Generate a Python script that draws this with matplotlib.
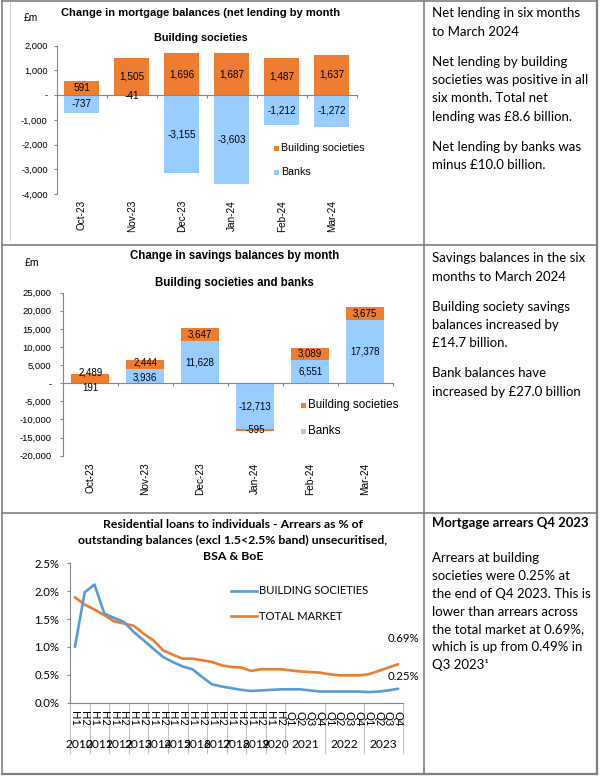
import matplotlib
matplotlib.use('Agg')
import matplotlib.pyplot as plt
import numpy as np
from matplotlib.patches import Rectangle
from matplotlib.lines import Line2D

# ---------------- data ----------------
months = ['Oct-23', 'Nov-23', 'Dec-23', 'Jan-24', 'Feb-24', 'Mar-24']
mort_bs = [591, 1505, 1696, 1687, 1487, 1637]
mort_banks = [-737, -41, -3155, -3603, -1212, -1272]
sav_bs = [2489, 2444, 3647, -595, 3089, 3675]
sav_banks = [191, 3936, 11628, -12713, 6551, 17378]

periods = ['H1', 'H2'] * 11 + ['Q1', 'Q2', 'Q3', 'Q4'] * 3
year_labels = [str(y) for y in range(2010, 2024)]
year_sizes = [2] * 11 + [4] * 3
arrears_bs = [1.00, 1.98, 2.12, 1.60, 1.52, 1.45, 1.27, 1.12, 0.97, 0.82,
              0.73, 0.65, 0.60, 0.46, 0.33, 0.29, 0.26, 0.23, 0.21, 0.22,
              0.23, 0.24, 0.24, 0.24, 0.22, 0.20, 0.20, 0.20, 0.20, 0.20,
              0.19, 0.20, 0.22, 0.25]
arrears_total = [1.89, 1.76, 1.67, 1.57, 1.46, 1.42, 1.38, 1.24, 1.12, 0.94,
                 0.86, 0.79, 0.79, 0.76, 0.73, 0.67, 0.64, 0.63, 0.57, 0.60,
                 0.60, 0.60, 0.58, 0.56, 0.55, 0.54, 0.51, 0.49, 0.49, 0.49,
                 0.51, 0.57, 0.63, 0.69]

panel1 = [("Net lending in six months", 13.3), ("to March 2024", 31.7),
          ("Net lending by building", 61.7), ("societies was positive in all", 80),
          ("six month. Total net", 98.3), ("lending was £8.6 billion.", 116.7),
          ("Net lending by banks was", 146.7), ("minus £10.0 billion.", 165)]
panel2 = [("Savings balances in the six", 258.3), ("months to March 2024", 276.7),
          ("Building society savings", 306.7), ("balances increased by", 325),
          ("£14.7 billion.", 343.3), ("Bank balances have", 373.3),
          ("increased by £27.0 billion", 391.7)]
panel3_title = ("Mortgage arrears Q4 2023", 523.3)
panel3 = [("Arrears at building", 558.3), ("societies were 0.25% at", 576),
          ("the end of Q4 2023. This is", 594), ("lower than arrears across", 611.7),
          ("the total market at 0.69%,", 629.3), ("which is up from 0.49% in", 647.3),
          ("Q3 2023\u00b9", 665)]

ORANGE = '#EE7D31'
LBLUE = '#99CCFF'
LBLUE_L = '#5B9BD5'
ORANGE_L = '#ED7D31'
GRAY = '#868686'
ARIAL = 'Liberation Sans'
CAL = 'Lato'

W, H = 600, 778
fig = plt.figure(figsize=(6, 7.78), dpi=100)
R = fig.canvas.get_renderer()


def fx(x):
    return x / W


def fy(y):
    return 1 - y / H


def add_ax(x0, y0, x1, y1):
    return fig.add_axes([fx(x0), fy(y1), (x1 - x0) / W, (y1 - y0) / H])


def text_w(s, size, family, weight='normal'):
    t = fig.text(0, 0, s, fontsize=size, family=family, weight=weight)
    w = t.get_window_extent(renderer=R).width
    t.remove()
    return w


def fit(s, target, family, weight='normal'):
    return 10 * target / text_w(s, 10, family, weight)


def ftext(x, y, s, **kw):
    return fig.text(fx(x), fy(y), s, **kw)


# ---------------- borders ----------------
def hline(x0, x1, y, color='#7F7F7F', lw=1.2):
    fig.add_artist(Line2D([fx(x0), fx(x1)], [fy(y), fy(y)], color=color, lw=lw))


def vline(x, y0, y1, color='#7F7F7F', lw=1.2):
    fig.add_artist(Line2D([fx(x), fx(x)], [fy(y0), fy(y1)], color=color, lw=lw))


hline(1.5, 597, 1.2)
hline(1.5, 597, 774, lw=1.6)
vline(1.5, 1.2, 774)
vline(597, 1.2, 774, lw=1.6)
vline(423.7, 1.2, 774)
hline(1.5, 597, 245)
hline(1.5, 597, 513)
vline(9.5, 1.5, 240, color='#D0D0D0', lw=0.8)


# ---------------- stacked bar charts ----------------
def fmt_thousands(v):
    return '-' if v == 0 else f'{int(v):,}'


def bar_chart(box, series, ylim, yticks, tick_fs, lab_fs, month_fs, month_off,
              tick_pad, min_gap_px=15):
    ax = add_ax(*box)
    x = np.arange(len(months))
    pos = np.zeros(len(months))
    neg = np.zeros(len(months))
    labels = []  # (x, ycenter, text)
    for vals, color in series:
        v = np.asarray(vals, float)
        bottom = np.where(v >= 0, pos, neg)
        ax.bar(x, v, 0.7, bottom=bottom, color=color, lw=0, zorder=2)
        labels.append([(xi, bi + vi / 2, f'{int(vi):,}') for xi, vi, bi in zip(x, v, bottom)])
        pos = np.where(v >= 0, pos + v, pos)
        neg = np.where(v < 0, neg + v, neg)
    ax.set_xlim(-0.5, len(months) - 0.5)
    ax.set_ylim(*ylim)
    # units per pixel for label separation
    upp = (ylim[1] - ylim[0]) / (box[3] - box[1])
    min_gap = min_gap_px * upp
    for j in range(len(months)):
        a = labels[0][j]
        b = labels[1][j]
        ya, yb = a[1], b[1]
        if abs(ya - yb) < min_gap and np.sign(ya) == np.sign(yb):
            mid = (ya + yb) / 2
            sgn = 1 if yb >= ya else -1
            ya, yb = mid - sgn * min_gap / 2, mid + sgn * min_gap / 2
        for (xx, _, s), yy in ((a, ya), (b, yb)):
            ax.text(xx, yy, s, ha='center', va='center', fontsize=lab_fs,
                    family=ARIAL, zorder=4)
    ax.set_facecolor('none')
    for s in ('top', 'right'):
        ax.spines[s].set_visible(False)
    ax.spines['bottom'].set_position(('data', 0))
    ax.spines['bottom'].set_color(GRAY)
    ax.spines['bottom'].set_zorder(3)
    ax.spines['left'].set_color(GRAY)
    ax.set_xticks(np.arange(-0.5, len(months), 1))
    ax.set_xticklabels([])
    ax.tick_params(axis='x', length=2.5, color=GRAY, width=0.8)
    ax.set_yticks(yticks)
    ax.set_yticklabels([fmt_thousands(t) for t in yticks], family=ARIAL,
                       fontsize=tick_fs)
    ax.tick_params(axis='y', length=2.2, color=GRAY, width=0.8, pad=tick_pad)
    for i, m in enumerate(months):
        ax.annotate(m, (i, 0), xycoords=('data', 'axes fraction'),
                    xytext=(0, -month_off), textcoords='offset pixels',
                    rotation=90, ha='center', va='top', fontsize=month_fs,
                    family=ARIAL)
    return ax


# Chart 1: mortgage balances
bar_chart((56.7, 45.7, 357, 194),
          [(mort_bs, ORANGE), (mort_banks, LBLUE)],
          (-4000, 2000), list(range(-4000, 2001, 1000)),
          tick_fs=6.7, lab_fs=7.2, month_fs=7.2, month_off=6, tick_pad=4.2)
ftext(200.8, 13, 'Change in mortgage balances (net lending by month',
      ha='center', va='center', fontsize=8.0, weight='bold', family=ARIAL)
ftext(200.8, 37.7, 'Building societies', ha='center', va='center',
      fontsize=7.8, weight='bold', family=ARIAL)
ftext(23.3, 18.3, '£m', ha='left', va='center', fontsize=7.3, family=ARIAL)
fig.add_artist(Rectangle((fx(274.3), fy(150.7)), 4.5 / W, 4.6 / H, color=ORANGE, lw=0))
ftext(281, 148.3, 'Building societies', ha='left', va='center', fontsize=7.7, family=ARIAL)
fig.add_artist(Rectangle((fx(274.3), fy(174.5)), 4.5 / W, 4.6 / H, color=LBLUE, lw=0))
ftext(281, 172, 'Banks', ha='left', va='center', fontsize=7.7, family=ARIAL)

# Chart 2: savings balances
bar_chart((62.7, 292.7, 392.7, 455.7),
          [(sav_banks, LBLUE), (sav_bs, ORANGE)],
          (-20000, 25000), list(range(-20000, 25001, 5000)),
          tick_fs=6.8, lab_fs=7.0, month_fs=7.3, month_off=7, tick_pad=5.8)
ftext(234.5, 255.7, 'Change in savings balances by month', ha='center',
      va='center', fontsize=8.3, weight='bold', family=ARIAL)
ftext(234.5, 283.3, 'Building societies and banks', ha='center', va='center',
      fontsize=8.3, weight='bold', family=ARIAL)
ftext(24.3, 262.7, '£m', ha='left', va='center', fontsize=7.6, family=ARIAL)
fig.add_artist(Rectangle((fx(301), fy(407.5)), 5 / W, 5 / H, color=ORANGE, lw=0))
ftext(308.3, 405, 'Building societies', ha='left', va='center', fontsize=8.4, family=ARIAL)
fig.add_artist(Rectangle((fx(301), fy(433.5)), 5 / W, 5 / H, color=LBLUE, lw=0))
ftext(308.3, 431, 'Banks', ha='left', va='center', fontsize=8.4, family=ARIAL)

# ---------------- Chart 3: arrears ----------------
ax3 = add_ax(70, 563.3, 403, 702.7)
n = len(periods)
xi = np.arange(n)
ax3.plot(xi, arrears_total, color=ORANGE_L, lw=1.9, solid_capstyle='round', zorder=3)
ax3.plot(xi, arrears_bs, color=LBLUE_L, lw=1.9, solid_capstyle='round', zorder=4)
ax3.set_xlim(-0.5, n - 0.5)
ax3.set_ylim(0, 2.5)
ax3.set_facecolor('none')
for s in ('top', 'right'):
    ax3.spines[s].set_visible(False)
ax3.spines['left'].set_color(GRAY)
ax3.spines['bottom'].set_color(GRAY)
yt = [0, 0.5, 1.0, 1.5, 2.0, 2.5]
tick_fs3 = fit('2.5%', 25, CAL)
ax3.set_yticks(yt)
ax3.set_yticklabels([f'{t:.1f}%' for t in yt], family=CAL, fontsize=tick_fs3)
ax3.tick_params(axis='y', length=2.3, color=GRAY, width=0.8, pad=5.4)
ax3.set_xticks([])
per_fs = fit('H1', 15, CAL)
for i, p in enumerate(periods):
    ax3.annotate(p, (i, 0), xycoords=('data', 'axes fraction'),
                 xytext=(0, -8), textcoords='offset pixels', rotation=-90,
                 ha='center', va='top', fontsize=per_fs, family=CAL)
yr_fs = fit('2021', 28, CAL)
start = -0.5
bounds = [start]
for lab, sz in zip(year_labels, year_sizes):
    ax3.annotate(lab, (start + sz / 2, 0), xycoords=('data', 'axes fraction'),
                 xytext=(0, -42), textcoords='offset pixels', ha='center',
                 va='center', fontsize=yr_fs, family=CAL)
    start += sz
    bounds.append(start)
ax_h = 702.7 - 563.3
for b in bounds:
    ax3.plot([b, b], [0, -50 / ax_h], transform=ax3.get_xaxis_transform(),
             color='#BFBFBF', lw=0.8, clip_on=False)

t3 = ['Residential loans to individuals - Arrears as % of',
      'outstanding balances (excl 1.5<2.5% band) unsecuritised,',
      'BSA & BoE']
t3_fs = fit(t3[1], 311, CAL, 'bold')
for s, y in zip(t3, [525, 540.7, 556.7]):
    ftext(233, y, s, ha='center', va='center', fontsize=t3_fs, weight='bold', family=CAL)

leg_fs = fit('BUILDING SOCIETIES', 109, CAL)
fig.add_artist(Line2D([fx(231), fx(256.7)], [fy(591), fy(591)], color=LBLUE_L, lw=1.9))
ftext(259.3, 591, 'BUILDING SOCIETIES', ha='left', va='center', fontsize=leg_fs, family=CAL)
fig.add_artist(Line2D([fx(231), fx(256.7)], [fy(616), fy(616)], color=ORANGE_L, lw=1.9))
ftext(259.3, 616, 'TOTAL MARKET', ha='left', va='center', fontsize=leg_fs, family=CAL)

ftext(388, 639, f'{arrears_total[-1]:.2f}%', ha='left', va='center', fontsize=tick_fs3, family=CAL)
ftext(388, 676.5, f'{arrears_bs[-1]:.2f}%', ha='left', va='center', fontsize=tick_fs3, family=CAL)

# ---------------- text panels ----------------
pfs = fit('societies was positive in all', 156.7, CAL)
for s, y in panel1 + panel2 + panel3:
    ftext(431.7, y, s, ha='left', va='center', fontsize=pfs, family=CAL)
pbfs = fit(panel3_title[0], 156.7, CAL, 'bold')
ftext(431.7, panel3_title[1], panel3_title[0], ha='left', va='center',
      fontsize=pbfs, weight='bold', family=CAL)

fig.savefig('out.png', dpi=100)
